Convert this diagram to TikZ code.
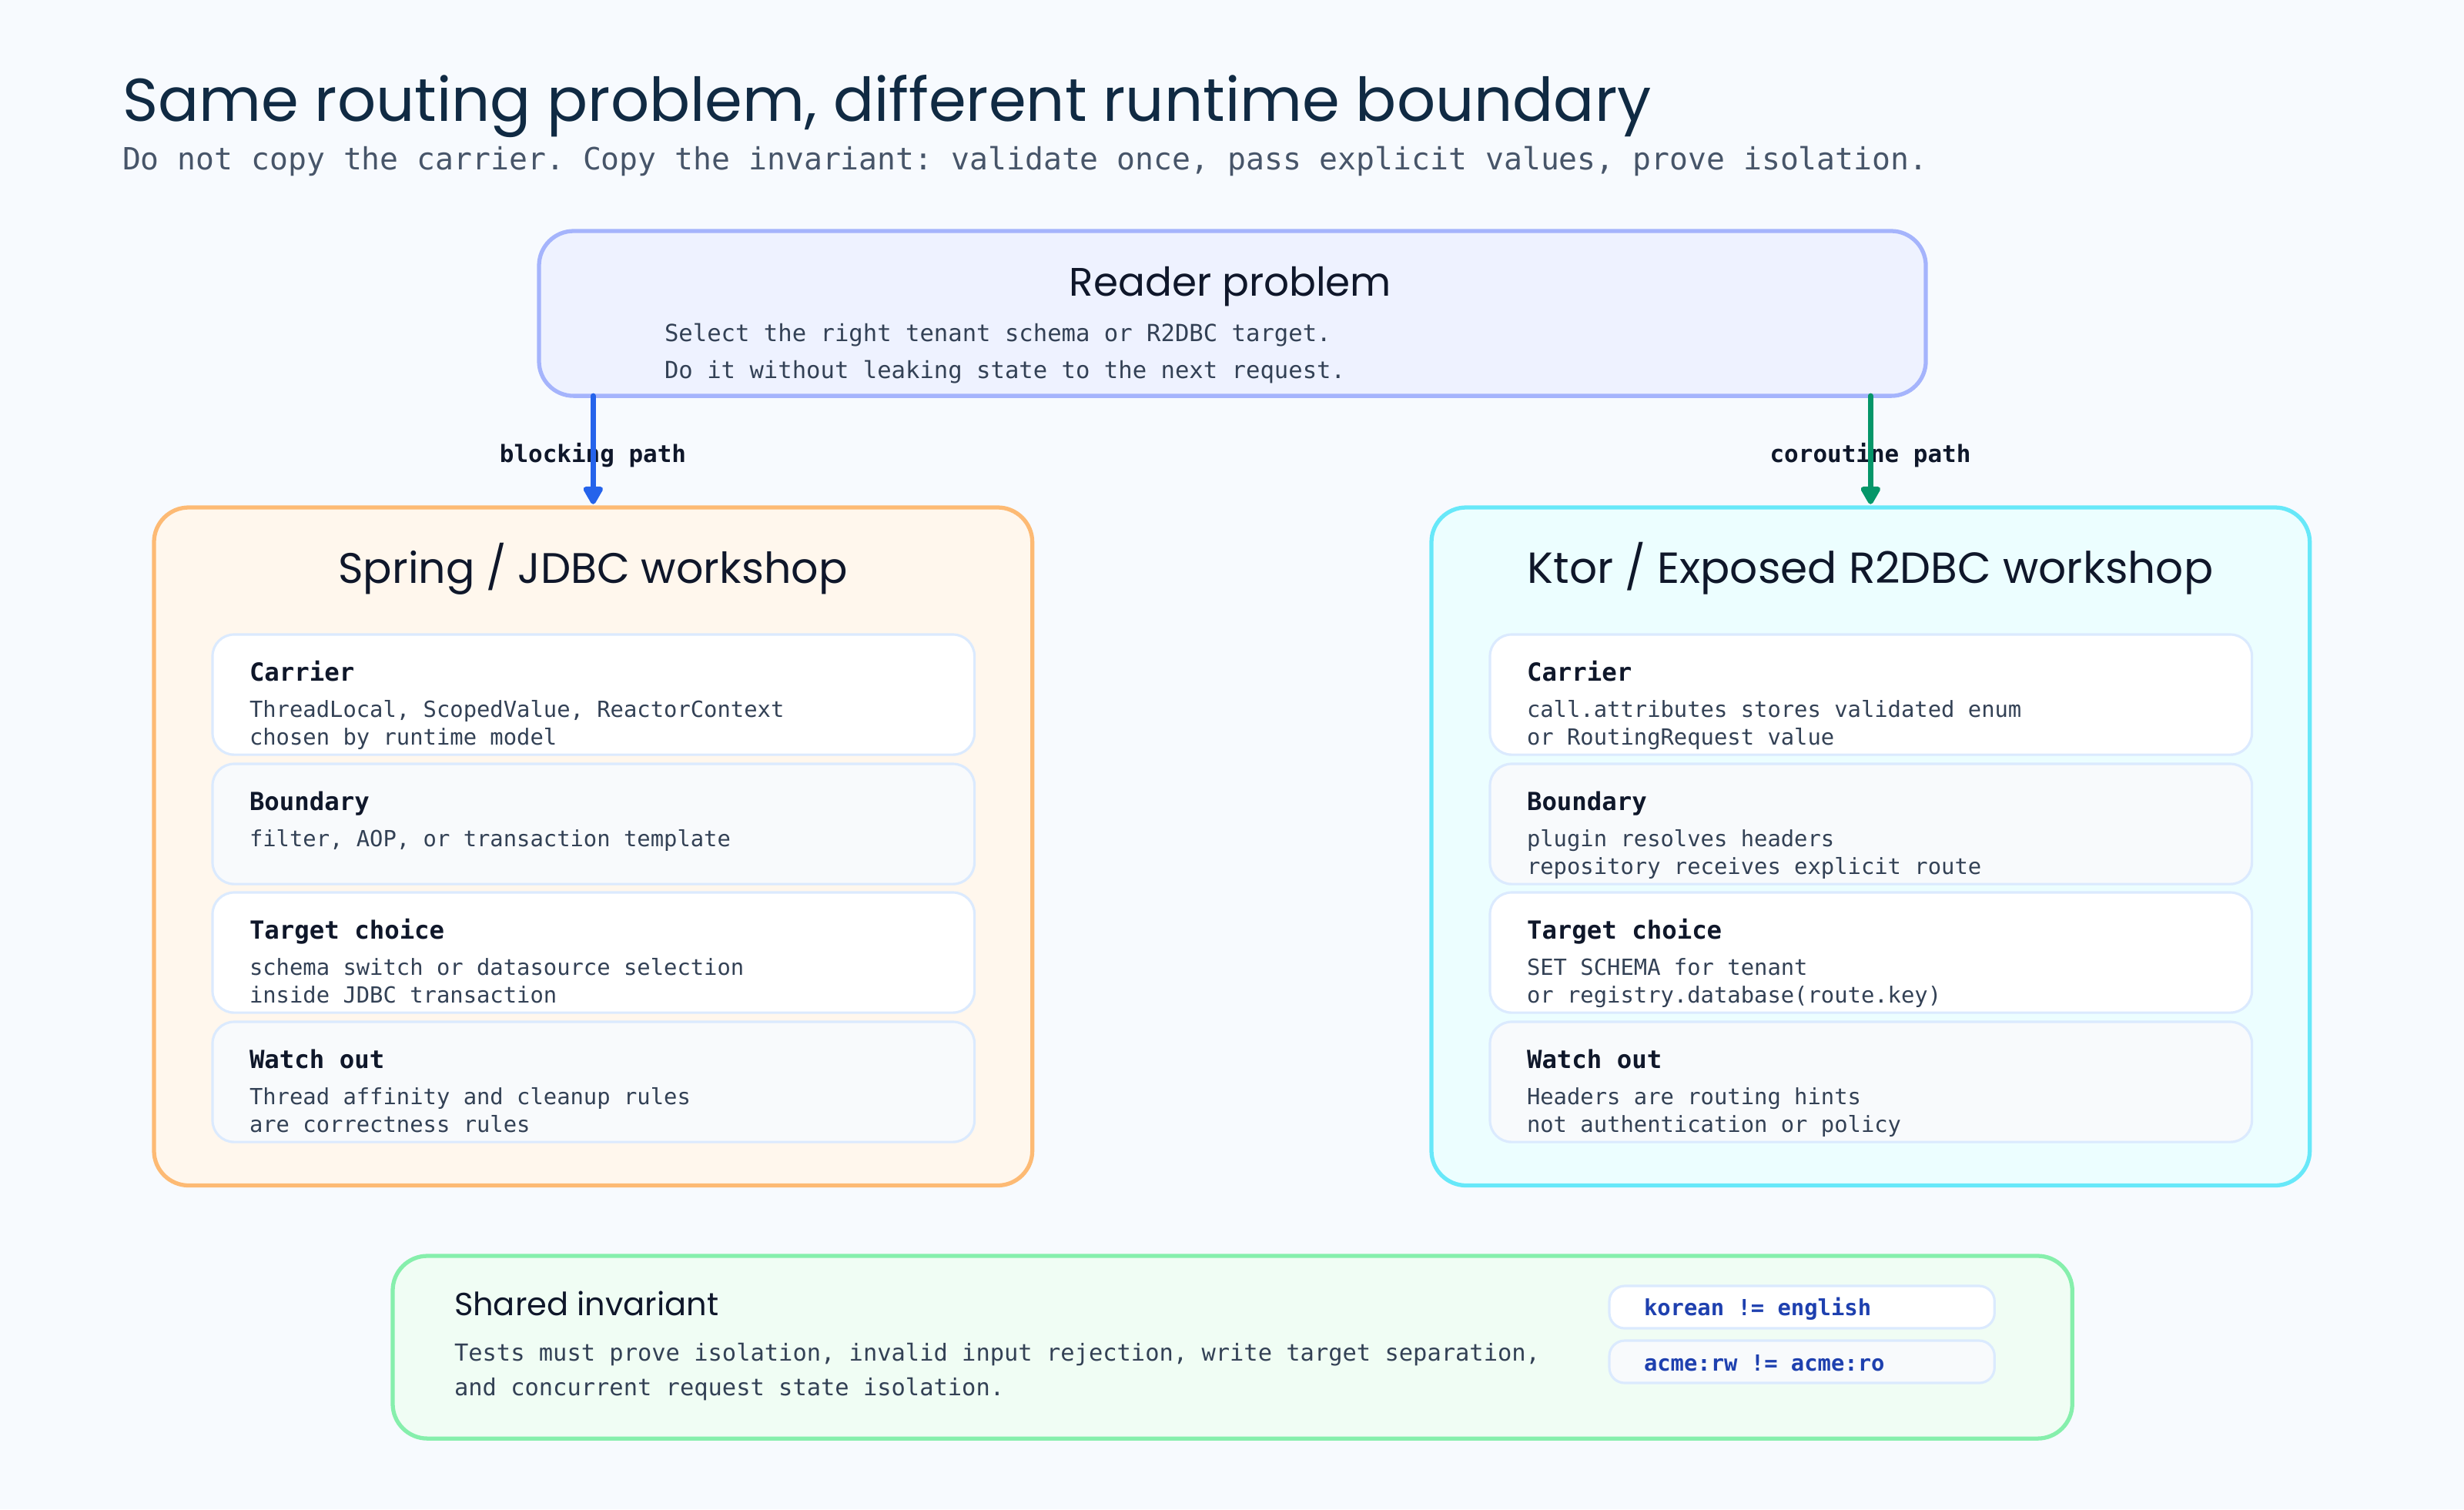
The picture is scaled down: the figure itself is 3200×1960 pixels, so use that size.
\documentclass[tikz,border=0pt]{standalone}
\usepackage{fontspec}
\usepackage{graphicx}
\setmainfont{Poppins}
\newfontfamily\handfont{Poppins}
\setmonofont{DejaVu Sans Mono}
\usetikzlibrary{calc,arrows.meta}
\definecolor{bgc}{HTML}{F7FAFE}
\definecolor{titlec}{HTML}{102A43}
\definecolor{subc}{HTML}{475569}
\definecolor{bodyc}{HTML}{334155}
\definecolor{headc}{HTML}{0F172A}
\definecolor{readerfill}{HTML}{EEF2FF}
\definecolor{readerline}{HTML}{A5B4FC}
\definecolor{springfill}{HTML}{FFF7ED}
\definecolor{springline}{HTML}{FDBA74}
\definecolor{ktorfill}{HTML}{ECFEFF}
\definecolor{ktorline}{HTML}{67E8F9}
\definecolor{sharedfill}{HTML}{F0FDF4}
\definecolor{sharedline}{HTML}{86EFAC}
\definecolor{cardline}{HTML}{DBEAFE}
\definecolor{cardalt}{HTML}{F8FAFC}
\definecolor{pillc}{HTML}{1E40AF}
\definecolor{blockc}{HTML}{2563EB}
\definecolor{coroc}{HTML}{059669}
\newcommand\twolines[3]{\vtop{\baselineskip=#1\hbox{#2}\hbox{#3}}}
\newcommand\mkcard[7]{%
  \node[card, fill=#4] (#1) at (#2,#3) {};
  \node[cardtitle] (#1-t) at ($(#1.north west)+(48,60)$) {#5};
  \node[cardbody] (#1-b) at ($(#1.north west)+(48,107)$) {\twolines{10.24pt}{#6}{#7}};
}
\begin{document}
\begin{tikzpicture}[x=0.01cm,y=-0.01cm,
  panel/.style={draw, rounded corners=0.45cm, line width=1.5pt, inner sep=0pt, outer sep=0pt, anchor=north west},
  card/.style={draw=cardline, line width=0.9pt, rounded corners=0.28cm, anchor=north west, inner sep=0pt, outer sep=0pt, minimum width=9.89cm, minimum height=1.56cm},
  pill/.style={draw=cardline, line width=0.9pt, rounded corners=0.2cm, anchor=north west, inner sep=0pt, outer sep=0pt, minimum width=5cm, minimum height=0.55cm},
  txt/.style={inner sep=0pt, outer sep=0pt},
  cardtitle/.style={txt, anchor=base west, text=headc, font=\ttfamily\bfseries\fontsize{9.2pt}{11pt}\selectfont},
  cardbody/.style={txt, anchor=base west, text=bodyc, font=\ttfamily\fontsize{8.2pt}{10.24pt}\selectfont},
  pathlabel/.style={txt, anchor=base, text=headc, font=\ttfamily\bfseries\fontsize{8.8pt}{10pt}\selectfont},
  flow/.style={line width=2pt, line cap=round, -{Triangle[length=7.6pt,width=8pt,round]}, shorten >=1.2pt}
]
\path[use as bounding box, fill=bgc] (0,0) rectangle (3200,1960);

% title
\node[txt, anchor=base west, text=titlec] (title) at (159,157)
  {\resizebox{19.84cm}{!}{\handfont Same routing problem, different runtime boundary}};
\node[txt, anchor=base west, text=subc, font=\ttfamily\fontsize{11.3pt}{13pt}\selectfont] (subtitle) at (159,220)
  {Do not copy the carrier. Copy the invariant: validate once, pass explicit values, prove isolation.};

% reader problem
\node[panel, draw=readerline, fill=readerfill, minimum width=18cm, minimum height=2.14cm] (reader) at (700,300) {};
\node[txt, anchor=base, text=headc] (reader-t) at (1598,384)
  {\resizebox{4.18cm}{!}{\handfont Reader problem}};
\node[txt, anchor=base west, text=bodyc, font=\ttfamily\fontsize{8.7pt}{10pt}\selectfont] (reader-b) at (863,443)
  {\twolines{13.9pt}{Select the right tenant schema or R2DBC target.}{Do it without leaking state to the next request.}};

% workshops
\node[panel, draw=springline, fill=springfill, minimum width=11.4cm, minimum height=8.8cm] (spring) at (200,659) {};
\node[panel, draw=ktorline, fill=ktorfill, minimum width=11.4cm, minimum height=8.8cm] (ktor) at (1859,659) {};
\node[txt, anchor=base, text=headc] (spring-t) at (770,757)
  {\resizebox{6.61cm}{!}{\handfont Spring / JDBC workshop}};
\node[txt, anchor=base, text=headc] (ktor-t) at (2429,757)
  {\resizebox{8.9cm}{!}{\handfont Ktor / Exposed R2DBC workshop}};

% path labels and arrows
\node[pathlabel] (blocklabel) at (770,600) {blocking path};
\node[pathlabel] (corolabel) at (2429,600) {coroutine path};
\draw[flow, blockc] (spring.north |- reader.south) -- (spring.north);
\draw[flow, coroc] (ktor.north |- reader.south) -- (ktor.north);

% left cards
\mkcard{l1}{276}{824}{white}{Carrier}{ThreadLocal, ScopedValue, ReactorContext}{chosen by runtime model}
\mkcard{l2}{276}{992}{cardalt}{Boundary}{filter, AOP, or transaction template}{}
\mkcard{l3}{276}{1159}{white}{Target choice}{schema switch or datasource selection}{inside JDBC transaction}
\mkcard{l4}{276}{1327}{cardalt}{Watch out}{Thread affinity and cleanup rules}{are correctness rules}

% right cards
\mkcard{r1}{1935}{824}{white}{Carrier}{call.attributes stores validated enum}{or RoutingRequest value}
\mkcard{r2}{1935}{992}{cardalt}{Boundary}{plugin resolves headers}{repository receives explicit route}
\mkcard{r3}{1935}{1159}{white}{Target choice}{SET SCHEMA for tenant}{or registry.database(route.key)}
\mkcard{r4}{1935}{1327}{cardalt}{Watch out}{Headers are routing hints}{not authentication or policy}

% shared invariant
\node[panel, draw=sharedline, fill=sharedfill, minimum width=21.8cm, minimum height=2.37cm] (shared) at (510,1631) {};
\node[txt, anchor=base west, text=headc] (shared-t) at (590,1708)
  {\resizebox{3.43cm}{!}{\handfont Shared invariant}};
\node[txt, anchor=base west, text=bodyc, font=\ttfamily\fontsize{8.65pt}{10pt}\selectfont] (shared-b) at (590,1767)
  {\twolines{12.8pt}{Tests must prove isolation, invalid input rejection, write target separation,}{and concurrent request state isolation.}};
\node[pill, fill=white] (pill1) at (2090,1670) {};
\node[pill, fill=cardalt] (pill2) at (2090,1741) {};
\node[txt, anchor=base west, text=pillc, font=\ttfamily\bfseries\fontsize{8.2pt}{10pt}\selectfont] (pill1-t) at (2135,1708) {korean != english};
\node[txt, anchor=base west, text=pillc, font=\ttfamily\bfseries\fontsize{8.2pt}{10pt}\selectfont] (pill2-t) at (2135,1780) {acme:rw != acme:ro};
\end{tikzpicture}
\end{document}
